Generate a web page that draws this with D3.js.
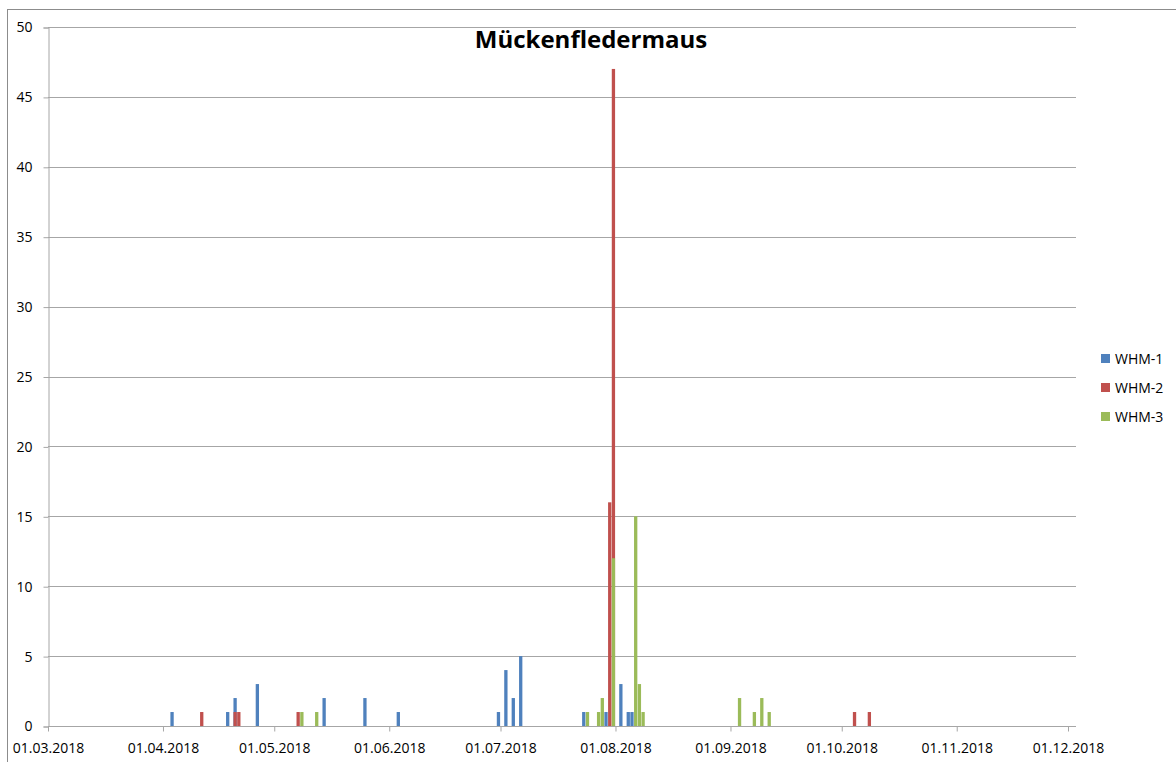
<!DOCTYPE html>
<html>
<head>
<meta charset="utf-8">
<script src="https://cdn.jsdelivr.net/npm/d3@7"></script>
<style>
  body { margin: 0; background: #fff; }
  svg { display: block; font-family: "Open Sans", sans-serif; }
</style>
</head>
<body>
<div id="chart"></div>
<script>
// series data (one bar per day)
var seriesNames = ["WHM-1", "WHM-2", "WHM-3"];
var whm1Dates = ["2018-04-03", "2018-04-18", "2018-04-20", "2018-04-26", "2018-05-14", "2018-05-25",
  "2018-06-03", "2018-06-30", "2018-07-02", "2018-07-04", "2018-07-06", "2018-07-23", "2018-07-29",
  "2018-08-02", "2018-08-04", "2018-08-05"];
var whm1Values = [1, 1, 2, 3, 2, 2, 1, 1, 4, 2, 5, 1, 1, 3, 1, 1];
var whm2Dates = ["2018-04-11", "2018-04-20", "2018-04-21", "2018-05-07", "2018-07-30", "2018-07-31",
  "2018-10-04", "2018-10-08"];
var whm2Values = [1, 1, 1, 1, 16, 47, 1, 1];
var whm3Dates = ["2018-05-08", "2018-05-12", "2018-07-24", "2018-07-27", "2018-07-28", "2018-07-31",
  "2018-08-06", "2018-08-07", "2018-08-08", "2018-09-03", "2018-09-07", "2018-09-09", "2018-09-11"];
var whm3Values = [1, 1, 1, 1, 2, 12, 15, 3, 1, 2, 1, 2, 1];
var yTicks = [0, 5, 10, 15, 20, 25, 30, 35, 40, 45, 50];
var xStart = "2018-03-01", xEnd = "2018-12-01";

var colors = ["#4F81BD", "#C0504D", "#9BBB59"];
var width = 1176, height = 762;
var margin = { top: 27, left: 48, bottom: 36 };
var plotRight = 1068, axisRight = 1076;

var parse = d3.utcParse("%Y-%m-%d");
var series = [
  { name: seriesNames[0], dates: whm1Dates, values: whm1Values },
  { name: seriesNames[1], dates: whm2Dates, values: whm2Values },
  { name: seriesNames[2], dates: whm3Dates, values: whm3Values }
];

var svg = d3.select("#chart").append("svg")
  .attr("width", width)
  .attr("height", height);

// outer chart border
svg.append("rect")
  .attr("x", 7.5).attr("y", 9.5)
  .attr("width", width).attr("height", height)
  .attr("fill", "none").attr("stroke", "#8c8c8c");

var x = d3.scaleUtc()
  .domain([parse(xStart), parse(xEnd)])
  .range([margin.left, plotRight]);
var y = d3.scaleLinear()
  .domain([0, 50])
  .range([height - margin.bottom, margin.top]);

// gridlines
svg.append("g").selectAll("line")
  .data(yTicks.slice(1))
  .enter().append("line")
  .attr("x1", margin.left).attr("x2", axisRight)
  .attr("y1", function(d) { return Math.round(y(d)) + 0.5; })
  .attr("y2", function(d) { return Math.round(y(d)) + 0.5; })
  .attr("stroke", "#a6a6a6");

// y axis
var yAxis = svg.append("g")
  .attr("transform", "translate(" + (margin.left + 0.5) + ",0.5)")
  .call(d3.axisLeft(y).tickValues(yTicks).tickSize(5).tickPadding(11));
yAxis.select(".domain").attr("stroke", "#a6a6a6");
yAxis.selectAll(".tick line").attr("stroke", "#a6a6a6");
yAxis.selectAll("text").attr("font-size", 14).attr("font-family", "Open Sans").attr("fill", "#000");

// bars, drawn in series order so later series sit on top
var oneDay = function(d) { return d3.utcDay.offset(d, 1); };
series.forEach(function(s, i) {
  var rows = s.dates.map(function(d, k) { return { date: parse(d), value: s.values[k] }; });
  svg.append("g").selectAll("rect")
    .data(rows)
    .enter().append("rect")
    .attr("x", function(d) { return x(d.date); })
    .attr("width", function(d) { return x(oneDay(d.date)) - x(d.date) - 0.4; })
    .attr("y", function(d) { return y(d.value); })
    .attr("height", function(d) { return y(0) - y(d.value); })
    .attr("fill", colors[i]);
});

// x axis
var xAxis = svg.append("g")
  .attr("transform", "translate(0," + (Math.round(y(0)) + 0.5) + ")")
  .call(d3.axisBottom(x).ticks(d3.utcMonth.every(1)).tickFormat(d3.utcFormat("%d.%m.%Y"))
    .tickSize(5).tickSizeOuter(0).tickPadding(12));
xAxis.select(".domain").remove();
xAxis.append("line")
  .attr("x1", margin.left).attr("x2", axisRight)
  .attr("stroke", "#a6a6a6");
xAxis.selectAll(".tick line").attr("stroke", "#a6a6a6");
xAxis.selectAll("text").attr("font-size", 14).attr("font-family", "Open Sans").attr("fill", "#000");

// title
svg.append("text")
  .attr("x", 591).attr("y", 48)
  .attr("text-anchor", "middle")
  .attr("font-size", 24).attr("font-weight", "bold")
  .text("Mückenfledermaus");

// legend
var legend = svg.append("g").selectAll("g")
  .data(series)
  .enter().append("g")
  .attr("transform", function(d, i) { return "translate(1101," + (354 + i * 29) + ")"; });
legend.append("rect")
  .attr("width", 9).attr("height", 9)
  .attr("fill", function(d, i) { return colors[i]; });
legend.append("text")
  .attr("x", 14).attr("y", 10)
  .attr("font-size", 14)
  .text(function(d) { return d.name; });
</script>
</body>
</html>
